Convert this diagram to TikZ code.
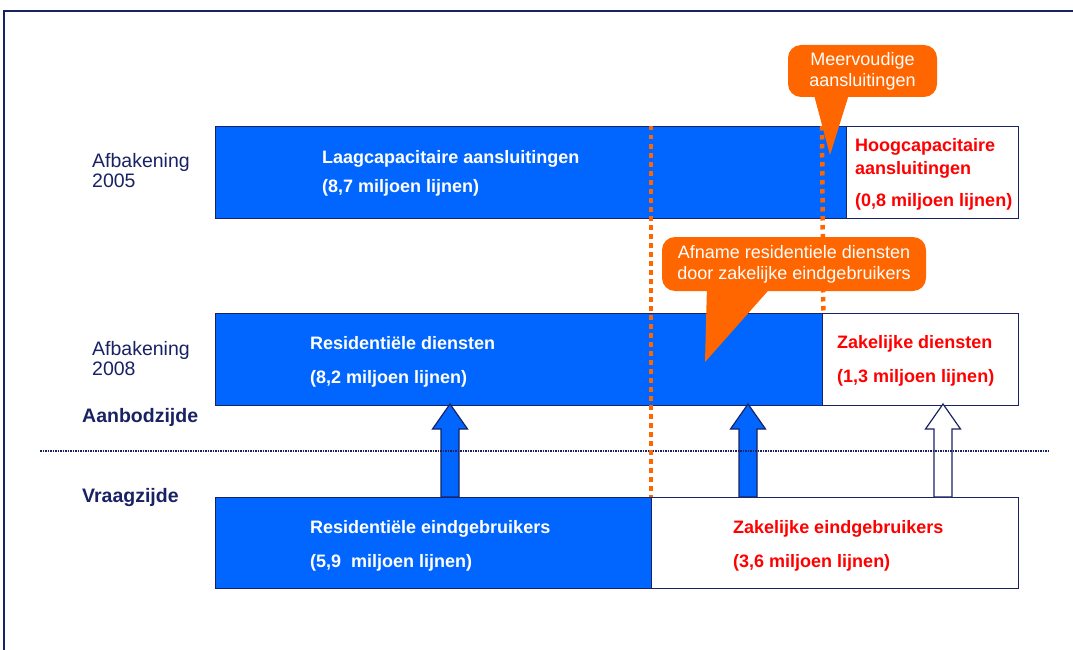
\documentclass[tikz,border=0pt]{standalone}
\usepackage{fontspec}
\setmainfont{Liberation Sans}
\usetikzlibrary{calc}
\definecolor{fillblue}{RGB}{0,102,255}
\definecolor{navy}{RGB}{25,35,100}
\definecolor{orng}{RGB}{255,102,0}
\definecolor{redtxt}{RGB}{255,0,0}
\tikzset{
  band/.style={draw=navy, line width=1.3pt, inner sep=0pt, anchor=north west, minimum height=92pt},
  bluebar/.style={band, fill=fillblue},
  whitebar/.style={band, fill=white},
  wtxt/.style={anchor=base west, inner sep=0pt, text=white, font=\fontsize{18}{21}\selectfont\bfseries},
  rtxt/.style={anchor=base west, inner sep=0pt, text=redtxt, font=\fontsize{18}{21}\selectfont\bfseries},
  sidelbl/.style={anchor=base west, inner sep=0pt, text=navy, font=\fontsize{19.5}{22}\selectfont},
  sidehead/.style={anchor=base west, inner sep=0pt, text=navy, font=\fontsize{19.5}{22}\selectfont\bfseries},
  boundary/.style={draw=orng, line width=4.5pt, dash pattern=on 4.5pt off 4.5pt},
  divider/.style={draw=navy, line width=2pt, dash pattern=on 1.5pt off 1pt},
  blockarrow/.style={draw=navy, line width=1.2pt, line join=miter},
  bubble/.style={fill=orng, rounded corners=13pt, inner sep=0pt, text=white, align=center,
    font=\fontsize{18}{21}\selectfont},
}
\begin{document}
\begin{tikzpicture}[x=1pt,y=-1pt]
\useasboundingbox (0,0) rectangle (1073,650);
\fill[white] (0,0) rectangle (1073,650);
% outer frame (top and left edges)
\draw[navy, line width=1.5pt] (4,650) -- (4,11) -- (1073,11);

% row 2005
\node[bluebar, minimum width=631pt] (lc) at (215,126) {};
\node[whitebar, minimum width=172pt] (hc) at (846,126) {};
\node[wtxt] (lct1) at (322,163) {Laagcapacitaire aansluitingen};
\node[wtxt] (lct2) at (322,192) {(8,7 miljoen lijnen)};
\node[rtxt] (hct1) at (855,151) {Hoogcapacitaire};
\node[rtxt] (hct2) at (855,174) {aansluitingen};
\node[rtxt] (hct3) at (855,206) {(0,8 miljoen lijnen)};

% row 2008
\node[bluebar, minimum width=607pt] (rd) at (215,313) {};
\node[whitebar, minimum width=196pt] (zd) at (822,313) {};
\node[wtxt] (rdt1) at (310,349) {Residentiële diensten};
\node[wtxt] (rdt2) at (310,383) {(8,2 miljoen lijnen)};
\node[rtxt] (zdt1) at (837,348) {Zakelijke diensten};
\node[rtxt] (zdt2) at (837,382) {(1,3 miljoen lijnen)};

% end users
\node[bluebar, minimum width=436pt, minimum height=91pt] (re) at (215,497) {};
\node[whitebar, minimum width=367pt, minimum height=91pt] (ze) at (651,497) {};
\node[wtxt] (ret1) at (310,533) {Residentiële eindgebruikers};
\node[wtxt] (ret2) at (310,567) {(5,9~ miljoen lijnen)};
\node[rtxt] (zet1) at (733,533) {Zakelijke eindgebruikers};
\node[rtxt] (zet2) at (733,567) {(3,6 miljoen lijnen)};

% side labels
\node[sidelbl] (a05) at (92,167) {Afbakening};
\node[sidelbl] (y05) at (92,187) {2005};
\node[sidelbl] (a08) at (92,355) {Afbakening};
\node[sidelbl] (y08) at (92,375) {2008};
\node[sidehead] (aanbod) at (82,422) {Aanbodzijde};
\node[sidehead] (vraag) at (82,502) {Vraagzijde};

% block arrows from end users up to services
\foreach \x/\f in {450/fillblue, 748/fillblue, 943/white}
  \draw[blockarrow, fill=\f] (\x-9,497) -- (\x-9,429) -- (\x-17.5,429) -- (\x,404)
     -- (\x+17.5,429) -- (\x+9,429) -- (\x+9,497) -- cycle;

% supply / demand divider
\coordinate (dl) at (40,451);
\coordinate (dr) at (1050,451);
\draw[divider] (dl) -- (dr);

% orange boundaries
\draw[boundary] (lc.north -| ze.north west) -- (ze.north west);
\draw[boundary] (822,126) -- (rd.north east);

% callouts
\node[bubble, minimum width=149pt, minimum height=52pt] (c1) at (862.5,71) {Meervoudige\\aansluitingen};
\coordinate (t1) at (830,155);
\fill[orng] ($(c1.south)+(-49.5,-6)$) -- (t1) -- ($(c1.south)+(-12.5,-6)$) -- cycle;

\node[bubble, minimum width=264pt, minimum height=54pt] (c2) at (794,264) {Afname residentiele diensten\\door zakelijke eindgebruikers};
\coordinate (t2) at (705,362);
\fill[orng] ($(c2.south)+(-87,-6)$) -- (t2) -- ($(c2.south)+(-21,-6)$) -- cycle;
\end{tikzpicture}
\end{document}
